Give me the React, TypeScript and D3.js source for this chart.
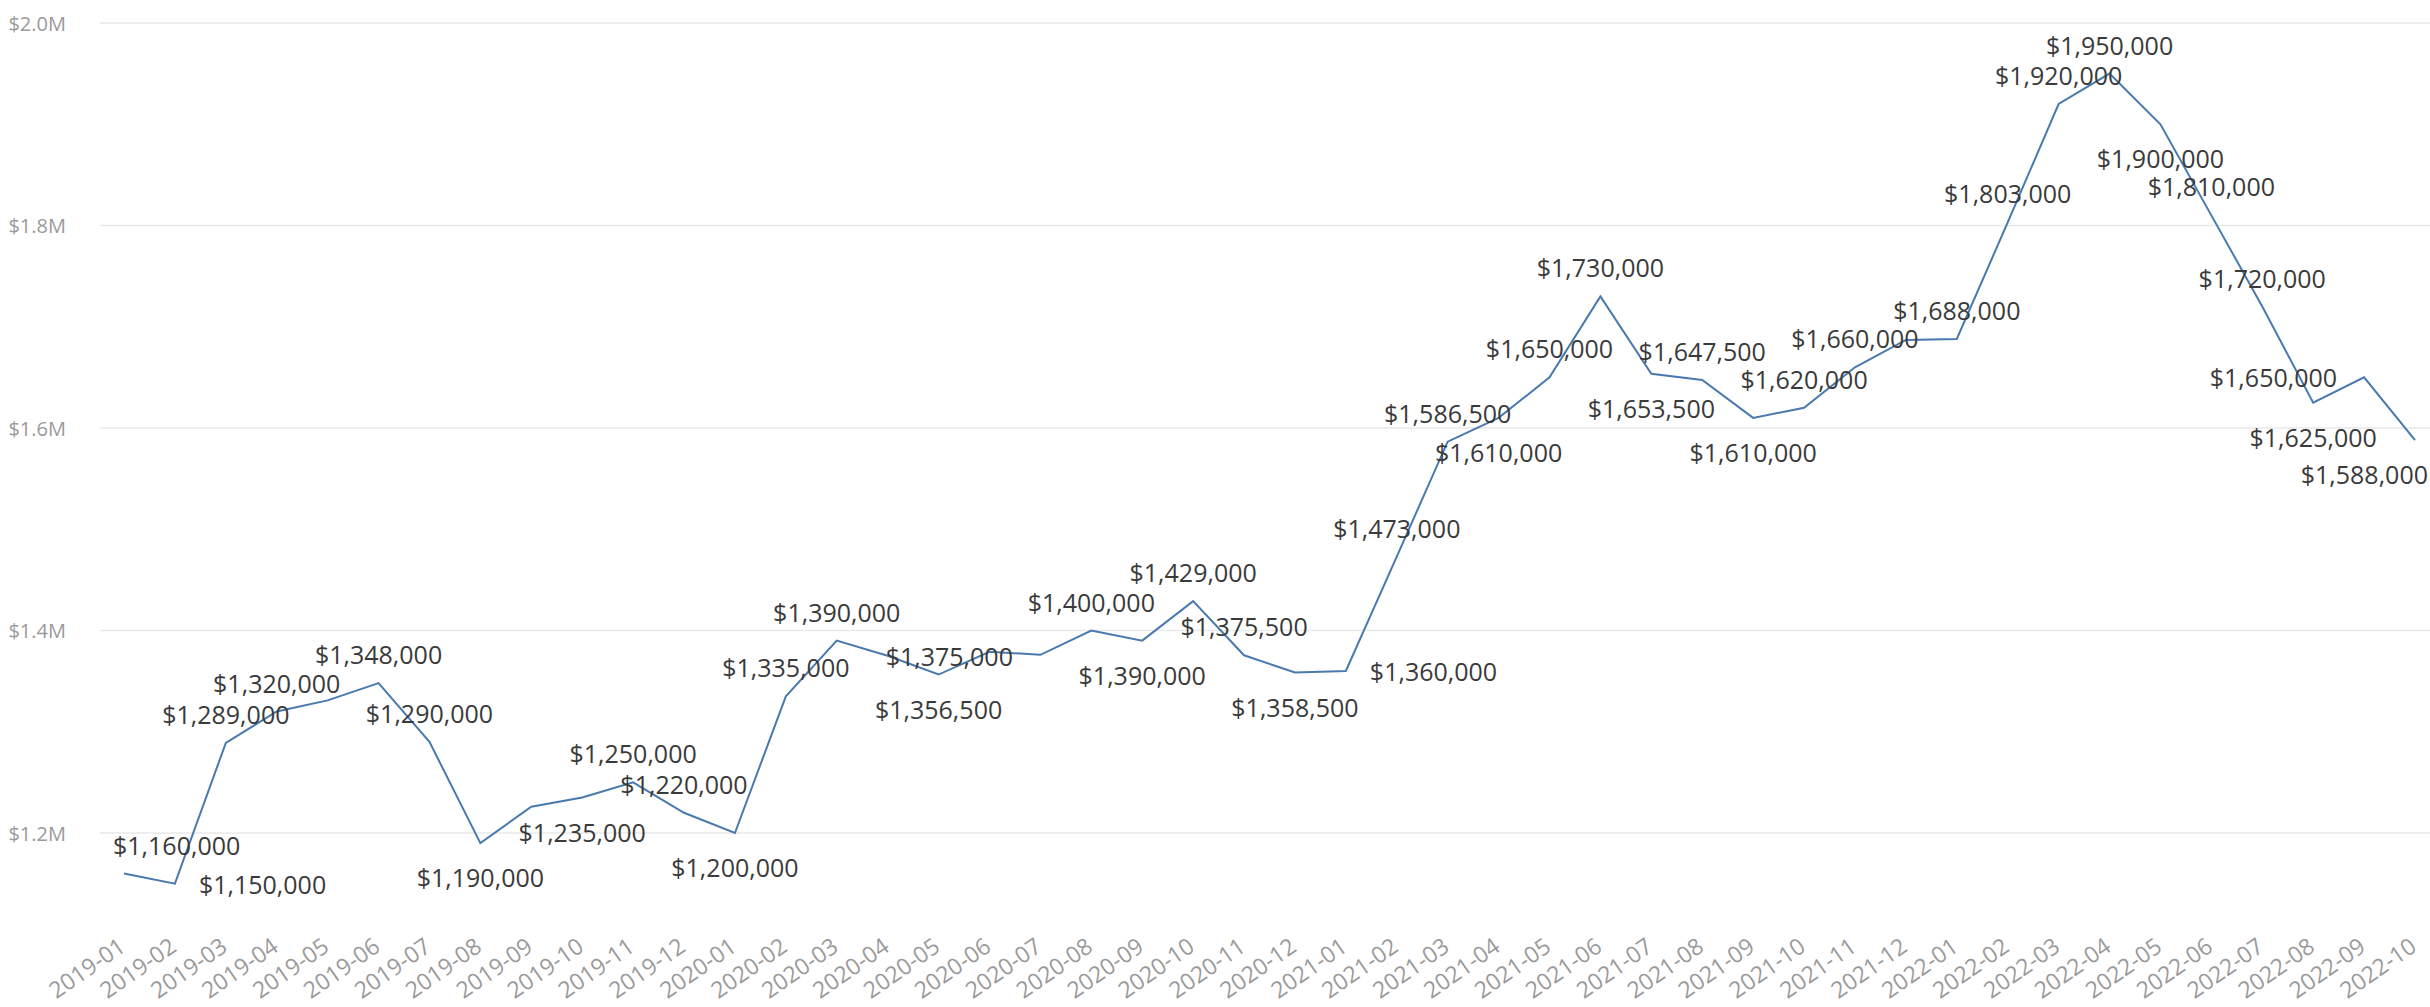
import React, { useMemo } from "react";
import * as d3 from "d3";

const months = [
  "2019-01", "2019-02", "2019-03", "2019-04", "2019-05", "2019-06", "2019-07", "2019-08", "2019-09", "2019-10", "2019-11", "2019-12",
  "2020-01", "2020-02", "2020-03", "2020-04", "2020-05", "2020-06", "2020-07", "2020-08", "2020-09", "2020-10", "2020-11", "2020-12",
  "2021-01", "2021-02", "2021-03", "2021-04", "2021-05", "2021-06", "2021-07", "2021-08", "2021-09", "2021-10", "2021-11", "2021-12",
  "2022-01", "2022-02", "2022-03", "2022-04", "2022-05", "2022-06", "2022-07", "2022-08", "2022-09", "2022-10",
];

const prices = [
  1160000, 1150000, 1289000, 1320000, 1331000, 1348000, 1290000, 1190000, 1226000, 1235000, 1250000, 1220000,
  1200000, 1335000, 1390000, 1375000, 1356500, 1379000, 1376000, 1400000, 1390000, 1429000, 1375500, 1358500,
  1360000, 1473000, 1586500, 1610000, 1650000, 1730000, 1653500, 1647500, 1610000, 1620000, 1660000, 1687000,
  1688000, 1803000, 1920000, 1950000, 1900000, 1810000, 1720000, 1625000, 1650000, 1588000,
];

// label placement per point: a = above, b = below, r = right, R = right (tight), l = left, n = hidden
const labelPlacement = [
  "a", "r", "a", "a", "n", "a", "a", "b", "n", "b", "a", "a",
  "b", "a", "a", "R", "b", "n", "n", "a", "b", "a", "a", "b",
  "r", "a", "a", "b", "a", "a", "b", "a", "b", "a", "a", "n",
  "a", "a", "a", "a", "b", "a", "a", "b", "l", "b",
];

const yTicks = [1200000, 1400000, 1600000, 1800000, 2000000];

const W = 2430;
const H = 1007;
const FONT = "'Open Sans', 'Noto Sans', sans-serif";
const LABEL_SIZE = 25;

export default function App() {
  const x = d3.scalePoint<string>().domain(months).range([124, 2415]);
  const y = d3.scaleLinear().domain([1200000, 2000000]).range([833, 23]);

  const line = d3
    .line<number>()
    .x((_, i) => x(months[i]) as number)
    .y((d) => y(d));

  const fmt = (v: number) => "$" + d3.format(",")(v);
  const fmtAxis = (v: number) => "$" + d3.format(".1f")(v / 1e6) + "M";

  const measure = useMemo(() => {
    const c = document.createElement("canvas").getContext("2d")!;
    c.font = `${LABEL_SIZE}px 'Open Sans'`;
    return (s: string) => c.measureText(s).width;
  }, []);

  const plotLeft = 113;
  const plotRight = 2428;

  const labels = prices.map((v, i) => {
    const p = labelPlacement[i];
    if (p === "n") return null;
    const px = x(months[i]) as number;
    const py = y(v);
    const text = fmt(v);
    const w = measure(text);
    let cx = px;
    let cy = py;
    if (p === "a") cy = py - 29;
    else if (p === "b") cy = py + 34;
    else if (p === "r") cx = px + 24 + w / 2;
    else if (p === "R") cx = px - 2 + w / 2;
    else if (p === "l") cx = px - 27 - w / 2;
    let left = cx - w / 2;
    if (left < plotLeft) left = plotLeft;
    if (left + w > plotRight) left = plotRight - w;
    return (
      <text
        key={i}
        x={left}
        y={cy}
        dominantBaseline="central"
        fontSize={LABEL_SIZE}
        fill="#3a3a3a"
        fontFamily={FONT}
      >
        {text}
      </text>
    );
  });

  return (
    <svg
      width={W}
      height={H}
      style={{ position: "absolute", left: 0, top: 0, background: "#fff" }}
    >
      <g>
        {yTicks.map((t) => (
          <g key={t}>
            <line x1={100} x2={W} y1={y(t)} y2={y(t)} stroke="#e9e9e9" strokeWidth={1.5} />
            <text
              x={66}
              y={y(t)}
              textAnchor="end"
              dominantBaseline="central"
              fontSize={20}
              fill="#9a9a9a"
              fontFamily={FONT}
            >
              {fmtAxis(t)}
            </text>
          </g>
        ))}
      </g>
      <g>
        {months.map((m) => {
          const px = (x(m) as number) + 3;
          return (
            <text
              key={m}
              transform={`translate(${px},950) rotate(-35)`}
              textAnchor="end"
              fontSize={23}
              fill="#9a9a9a"
              fontFamily={FONT}
            >
              {m}
            </text>
          );
        })}
      </g>
      <path d={line(prices) || ""} fill="none" stroke="#4a79ad" strokeWidth={2} strokeLinejoin="miter" />
      <g>{labels}</g>
    </svg>
  );
}
